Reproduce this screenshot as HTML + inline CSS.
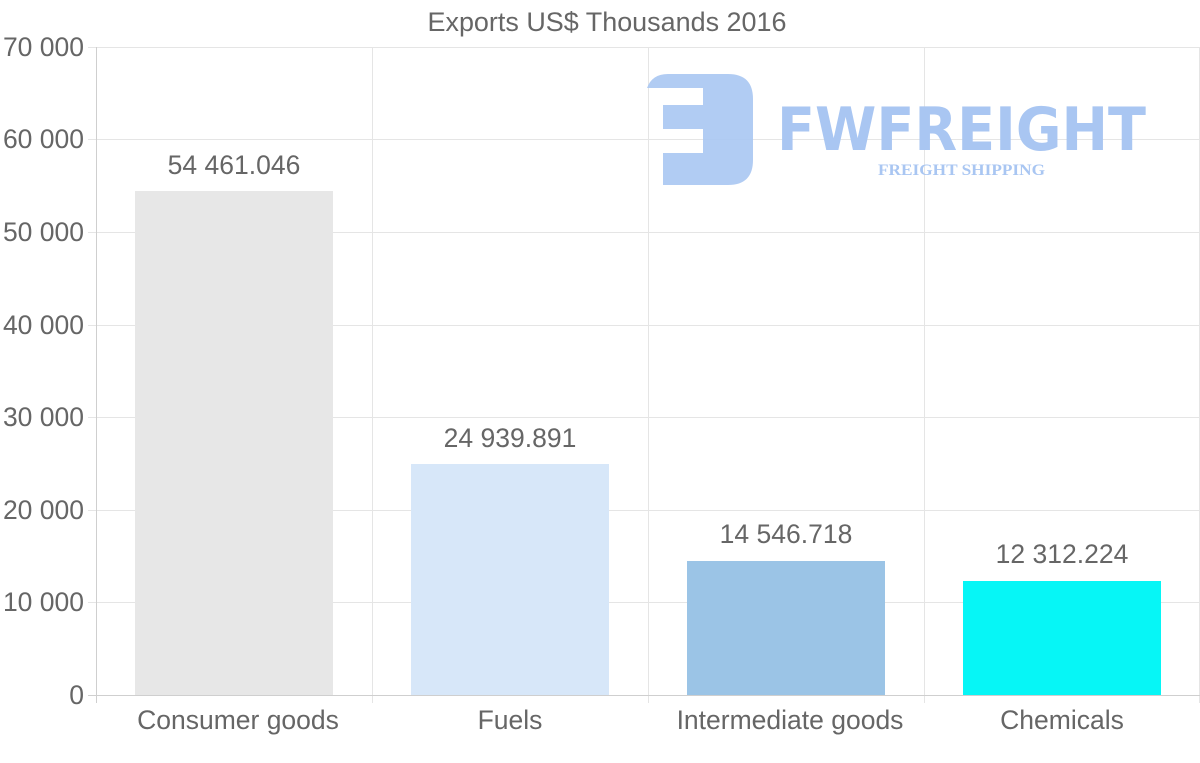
<!DOCTYPE html>
<html><head><meta charset="utf-8"><style>
html,body{margin:0;padding:0;background:#fff;}
svg{display:block;font-family:"Liberation Sans",Arial,sans-serif;}
</style></head><body>
<svg width="1200" height="763" viewBox="0 0 1200 763" xmlns="http://www.w3.org/2000/svg">
<text x="607" y="31" font-size="26.5" fill="#666" text-anchor="middle" textLength="359" lengthAdjust="spacingAndGlyphs">Exports US$ Thousands 2016</text>
<g stroke="#e5e5e5" stroke-width="1">
<line x1="88" y1="47.5" x2="1200" y2="47.5"/>
<line x1="88" y1="139.5" x2="1200" y2="139.5"/>
<line x1="88" y1="232.5" x2="1200" y2="232.5"/>
<line x1="88" y1="325.5" x2="1200" y2="325.5"/>
<line x1="88" y1="417.5" x2="1200" y2="417.5"/>
<line x1="88" y1="510.5" x2="1200" y2="510.5"/>
<line x1="88" y1="602.5" x2="1200" y2="602.5"/>
<line x1="372.5" y1="47" x2="372.5" y2="703"/>
<line x1="648.5" y1="47" x2="648.5" y2="703"/>
<line x1="924.5" y1="47" x2="924.5" y2="703"/>
<line x1="1199.5" y1="47" x2="1199.5" y2="703"/>
</g>
<g stroke="#cfcfcf" stroke-width="1">
<line x1="96.5" y1="47" x2="96.5" y2="703"/>
<line x1="88" y1="695.5" x2="1200" y2="695.5"/>
</g>
<g fill="#a9c6f2" opacity="0.9">
<path d="M647 88 Q652 74 668 74 L728 74 Q753 74 753 99 L753 160 Q753 185 728 185 L663 185 L663 153 L703 153 L703 129 L663 129 L663 105 L703 105 L703 88 Z"/>
</g>
<text x="777" y="150" font-size="60" font-weight="bold" fill="#a9c6f2" textLength="369" lengthAdjust="spacingAndGlyphs" font-family="'DejaVu Sans','Liberation Sans',sans-serif">FWFREIGHT</text>
<text x="878" y="175" font-size="16" font-weight="bold" fill="#a9c6f2" textLength="167" lengthAdjust="spacingAndGlyphs" font-family="'Liberation Serif',serif">FREIGHT SHIPPING</text>
<rect x="135" y="191" width="198" height="504" fill="#e7e7e7"/>
<rect x="411" y="464" width="198" height="231" fill="#d7e7f9"/>
<rect x="687" y="561" width="198" height="134" fill="#9bc4e6"/>
<rect x="963" y="581" width="198" height="114" fill="#06f6f6"/>
<g font-size="26.5" fill="#666" text-anchor="middle">
<text x="234" y="174">54 461.046</text>
<text x="510" y="447">24 939.891</text>
<text x="786" y="543">14 546.718</text>
<text x="1062" y="563">12 312.224</text>
<text x="238" y="729">Consumer goods</text>
<text x="510" y="729">Fuels</text>
<text x="790" y="729">Intermediate goods</text>
<text x="1062" y="729">Chemicals</text>
</g>
<g font-size="26.5" fill="#666" text-anchor="end">
<text x="84" y="56">70 000</text>
<text x="84" y="148">60 000</text>
<text x="84" y="241">50 000</text>
<text x="84" y="334">40 000</text>
<text x="84" y="426">30 000</text>
<text x="84" y="519">20 000</text>
<text x="84" y="611">10 000</text>
<text x="84" y="704">0</text>
</g>
</svg>
</body></html>
